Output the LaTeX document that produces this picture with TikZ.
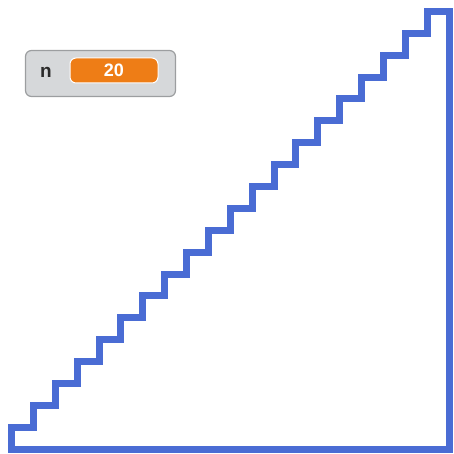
\documentclass[tikz,border=0pt]{standalone}
\usepackage{fontspec}
\setmainfont{Liberation Sans}
\usepackage{tikz}
\usetikzlibrary{positioning}
\definecolor{penblue}{HTML}{4A6CD4}
\definecolor{monitorgray}{HTML}{D6D8DA}
\definecolor{monitoredge}{HTML}{9C9EA0}
\definecolor{varorange}{HTML}{EE7D16}
\definecolor{labeldark}{HTML}{2A2A2A}

\begin{document}
\begin{tikzpicture}[
    x=1pt,
    y=-1pt,
    stairs/.style={
        draw=penblue,
        line width=7pt,
        miter limit=10
    },
    monitor/.style={
        draw=monitoredge,
        fill=monitorgray,
        line width=1.2pt,
        rounded corners=6pt,
        minimum width=150pt,
        minimum height=46pt,
        inner sep=0pt
    },
    valuebox/.style={
        draw=white,
        fill=varorange,
        line width=1pt,
        rounded corners=6pt,
        minimum width=88pt,
        minimum height=25pt,
        inner sep=0pt,
        text=white,
        font=\fontsize{18}{18}\selectfont\bfseries
    },
    varname/.style={
        inner sep=0pt,
        text=labeldark,
        font=\fontsize{19}{19}\selectfont\bfseries
    }
]
\useasboundingbox (0,0) rectangle (454,454);

% Staircase
\coordinate (start) at (11.5,449);
\draw[stairs] (start)
    \foreach \k in {1,...,20} { -- ++(0,-21.875) -- ++(21.875,0) }
    -- ++(0,437.5) -- cycle;

% Variable monitor
\node[monitor] (mon) at (100.5,73.5) {};
\node[varname] (name) at (46,72) {n};
\node[valuebox] (value) at (114,70.5) {20};

\end{tikzpicture}
\end{document}
